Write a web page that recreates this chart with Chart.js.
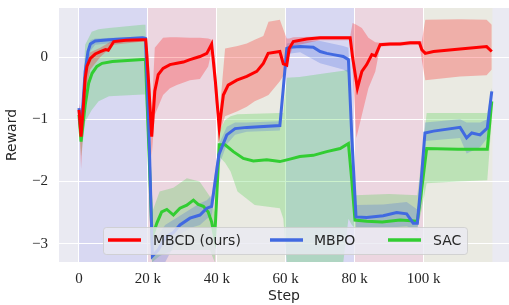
<!DOCTYPE html>
<html lang="en">
<head>
    <meta charset="UTF-8">
    <title>Reward vs Step</title>
    <script src="https://cdn.jsdelivr.net/npm/chart.js"></script>
    <style>
        body { margin: 0; background: #fff; }
        .wrap { width: 509px; height: 305px; position: relative; }
    </style>
</head>
<body>
<div class="wrap"><canvas id="rewardChart"></canvas></div>

<script>
// steps are in thousands
const xTicks = [0, 20, 40, 60, 80, 100];
const yTicks = [-3, -2, -1, 0];
const phaseStarts = [0, 20, 40, 60, 80, 100];
const phaseColors = ['#D8D8F2', '#ECD6E0', '#EAEAE2', '#D8D8F2', '#ECD6E0', '#EAEAE2'];

// MBCD (ours)
const mbcdSteps = [0, 0.6, 1.3, 1.8, 2.3, 3.3, 4.7, 6.2, 7.7, 8.5,
    9.2, 10.1, 13.6, 18.5, 19.4, 20.2, 21.1, 22, 23, 24.4,
    26.4, 28.4, 30.3, 32.2, 35.1, 37.1, 38.5, 39.6, 40.7, 41.9,
    43.3, 45.8, 48.7, 51.6, 53.5, 54.9, 58.3, 59.3, 60.3, 61,
    62.2, 66.1, 70, 78.7, 79.4, 80.8, 82.1, 83.5, 85, 86,
    87.4, 90.3, 93.2, 96.1, 98.8, 99.5, 100.5, 102.9, 110.6, 118.3,
    119.8];
const mbcdMean = [-0.85, -1.28, -0.77, -0.34, -0.15, -0.02, 0.05, 0.09, 0.12, 0.11,
    0.17, 0.25, 0.27, 0.28, 0.28, -0.4, -1.28, -0.55, -0.28, -0.18,
    -0.12, -0.10, -0.08, -0.04, 0.01, 0.06, 0.21, -0.4, -1.14, -0.61,
    -0.45, -0.37, -0.31, -0.23, -0.10, 0.06, 0.09, -0.11, -0.13, 0.14,
    0.25, 0.29, 0.31, 0.31, 0.0, -0.50, -0.23, -0.12, 0.04, 0.02,
    0.20, 0.21, 0.21, 0.23, 0.23, 0.12, 0.06, 0.09, 0.13, 0.17,
    0.09];
const mbcdBandSteps = [0, 0.6, 1.8, 3.3, 6.2, 10.1, 18.5, 19.4, 20.2, 21.1,
    22, 24.4, 26.4, 28.4, 32.2, 35.1, 37.5, 38.5, 39.6, 40.7,
    42.4, 46, 48.7, 51, 53.5, 55, 58.3, 59.3, 60.3, 61,
    62.2, 70, 78.7, 79.4, 80.5, 82.1, 84, 86, 87.4, 98.8,
    99.5, 100.5, 110.6, 118.3, 119.8];
const mbcdUpper = [-0.75, -0.9, -0.15, 0.08, 0.15, 0.28, 0.30, 0.30, 0.0, -0.9,
    0.15, 0.31, 0.32, 0.32, 0.31, 0.31, 0.30, 0.28, -0.1, -0.95,
    0.14, 0.18, 0.22, 0.28, 0.34, 0.57, 0.60, 0.45, 0.30, 0.30,
    0.32, 0.33, 0.33, 0.55, 0.52, 0.47, 0.31, 0.24, 0.23, 0.26,
    0.25, 0.60, 0.61, 0.60, 0.52];
const mbcdLower = [-0.95, -1.8, -0.6, -0.2, 0.0, 0.2, 0.25, 0.25, -0.7, -1.6,
    -0.93, -0.61, -0.5, -0.45, -0.37, -0.35, -0.15, 0.1, -0.7, -1.25,
    -0.95, -0.87, -0.8, -0.71, -0.65, -0.61, -0.39, -0.3, -0.18, 0.0,
    0.18, 0.27, 0.27, -0.2, -1.30, -0.93, -0.50, -0.23, 0.17, 0.2,
    -0.05, -0.37, -0.31, -0.29, -0.2];

// MBPO
const mbpoSteps = [0, 0.6, 1.8, 2.6, 3.3, 4.7, 8.7, 18.5, 19.3, 20.3,
    21.3, 23, 25, 27.4, 29.3, 32.2, 35.1, 37.1, 38.5, 40.6,
    42.9, 45.3, 48.7, 58.3, 59.3, 60.3, 61.3, 64.2, 68, 70,
    71.9, 73.8, 76.7, 78.2, 79.2, 80.4, 83.5, 88.3, 92.2, 95.1,
    97, 98.2, 99.3, 100.4, 102.9, 110.6, 112.5, 114, 116.4, 118.5,
    119.8];
const mbpoMean = [-0.82, -1.2, -0.23, 0.09, 0.21, 0.26, 0.28, 0.31, 0.30, -1.2,
    -3.2, -3.1, -2.9, -2.82, -2.70, -2.59, -2.54, -2.43, -2.40, -1.57,
    -1.25, -1.15, -1.13, -1.10, -0.5, 0.14, 0.16, 0.17, 0.16, 0.09,
    0.06, 0.04, 0.01, -0.04, -1.3, -2.57, -2.58, -2.55, -2.50, -2.52,
    -2.67, -2.67, -2.0, -1.22, -1.19, -1.13, -1.30, -1.22, -1.25, -1.14,
    -0.55];
const mbpoBandSteps = [0, 0.6, 1.8, 3.3, 4.7, 18.5, 19.3, 20.3, 21.3, 25,
    29.3, 32.2, 35.1, 37.1, 38.5, 40.6, 42.9, 45.3, 48.7, 58.3,
    59.3, 60.3, 64.2, 70, 76.7, 78.2, 79.2, 80.4, 88.3, 95.1,
    98.2, 99.3, 100.4, 110.6, 112.5, 116.4, 118.5, 119.8];
const mbpoUpper = [-0.75, -1.1, -0.05, 0.27, 0.3, 0.33, 0.33, -1.0, -3.0, -2.7,
    -2.55, -2.45, -2.35, -2.3, -2.22, -1.4, -1.12, -1.05, -1.05, -1.03,
    -0.4, 0.22, 0.25, 0.26, 0.18, 0.15, -1.1, -2.38, -2.37, -2.33,
    -2.45, -1.8, -1.05, -1.0, -1.05, -1.05, -1.0, -0.5];
const mbpoLower = [-0.9, -1.3, -0.45, 0.1, 0.2, 0.27, 0.27, -1.4, -3.4, -3.3,
    -2.85, -2.75, -2.7, -2.6, -2.55, -1.75, -1.4, -1.25, -1.2, -1.18,
    -0.6, 0.05, 0.08, -0.1, -0.2, -0.25, -1.5, -2.75, -2.75, -2.72,
    -2.8, -2.2, -1.35, -1.3, -1.55, -1.45, -1.3, -0.6];

// SAC
const sacSteps = [0, 0.6, 1.8, 2.8, 3.8, 5.2, 6.7, 9.7, 18.5, 19.3,
    20.3, 21.2, 22.6, 24, 25.5, 27.4, 29.3, 31.3, 33.2, 34.6,
    36.1, 37.5, 38.5, 39.4, 40.7, 42.4, 44.8, 47.7, 50.6, 54.5,
    58.3, 61.2, 64.1, 68, 71.9, 75.8, 78.2, 79.2, 80.1, 83.5,
    88, 93.2, 98.2, 99.3, 100.9, 110, 118.5, 119.8];
const sacMean = [-0.93, -1.36, -0.77, -0.42, -0.26, -0.15, -0.10, -0.07, -0.04, -0.04,
    -1.5, -2.9, -2.67, -2.49, -2.45, -2.54, -2.43, -2.38, -2.30, -2.37,
    -2.40, -2.49, -2.65, -2.9, -1.41, -1.41, -1.52, -1.63, -1.67, -1.65,
    -1.68, -1.64, -1.60, -1.58, -1.52, -1.47, -1.39, -2.0, -2.62, -2.64,
    -2.65, -2.62, -2.64, -2.2, -1.47, -1.48, -1.48, -0.71];
const sacBandSteps = [0, 0.6, 1.8, 3.7, 5.7, 8.7, 18.5, 19.3, 20.3, 21.2,
    23.4, 27.4, 31.3, 35, 38, 39.4, 40.7, 42.4, 44, 46,
    51, 58.3, 59.3, 60.3, 64, 70, 76.7, 78.2, 79.2, 80.1,
    90, 98.2, 99.3, 100.9, 110, 118.5, 119.8];
const sacUpper = [-0.85, -1.2, 0.2, 0.41, 0.45, 0.47, 0.52, 0.52, -1.0, -2.5,
    -2.16, -2.1, -1.95, -2.0, -2.24, -2.5, -1.2, -1.01, -0.95, -0.92,
    -0.91, -0.9, -0.9, -0.33, -0.32, -0.27, -0.22, -0.2, -1.0, -2.22,
    -2.2, -2.22, -1.7, -0.9, -0.9, -0.9, -0.5];
const sacLower = [-1.0, -1.6, -1.04, -0.85, -0.71, -0.63, -0.6, -0.6, -2.0, -3.3,
    -3.2, -3.1, -3.1, -3.1, -3.1, -3.3, -1.6, -1.7, -1.84, -2.16,
    -2.38, -2.43, -2.6, -3.3, -3.3, -3.3, -3.3, -2.6, -2.7, -2.75,
    -2.75, -2.75, -2.5, -2.03, -2.0, -1.98, -1.0];

const RED = '#FF0000', BLUE = '#4169E1', GREEN = '#32CD32';
const textColor = '#262626';

function pts(xs, ys) {
    return xs.map((x, i) => ({ x: x, y: ys[i] }));
}

function lineSet(label, xs, ys, color, order) {
    return {
        label: label, data: pts(xs, ys), borderColor: color, borderWidth: 3,
        pointRadius: 0, tension: 0, fill: false, order: order
    };
}

function bandSets(xs, hi, lo, fillColor, order) {
    return [
        { label: '', data: pts(xs, hi), borderWidth: 0, pointRadius: 0,
          backgroundColor: fillColor, fill: '+1', order: order },
        { label: '', data: pts(xs, lo), borderWidth: 0, pointRadius: 0,
          fill: false, order: order }
    ];
}

// grey background + coloured task phases
const phaseBackground = {
    id: 'phaseBackground',
    beforeDraw(chart) {
        const { ctx, chartArea: a, scales: { x } } = chart;
        ctx.save();
        ctx.fillStyle = '#EAEAF2';
        ctx.fillRect(a.left, a.top, a.width, a.height);
        phaseStarts.forEach((s, i) => {
            const l = x.getPixelForValue(s);
            const r = x.getPixelForValue(s + 20);
            ctx.fillStyle = phaseColors[i];
            ctx.fillRect(l, a.top, r - l, a.height);
        });
        ctx.restore();
    }
};

// matplotlib-like legend box inside the axes
const legendBox = {
    id: 'legendBox',
    afterDraw(chart) {
        const { ctx, chartArea: a } = chart;
        const x0 = a.left + 44, y0 = a.bottom - 35, w = 364, h = 27;
        ctx.save();
        ctx.beginPath();
        ctx.roundRect(x0 + 0.5, y0 + 0.5, w, h, 3);
        ctx.fillStyle = 'rgba(234,234,242,0.8)';
        ctx.fill();
        ctx.strokeStyle = 'rgba(204,204,204,0.8)';
        ctx.lineWidth = 1;
        ctx.stroke();
        const items = [
            { text: 'MBCD (ours)', color: RED, lx: 5, tx: 50 },
            { text: 'MBPO', color: BLUE, lx: 167, tx: 211 },
            { text: 'SAC', color: GREEN, lx: 285, tx: 330 }
        ];
        const cy = y0 + 13;
        ctx.font = '14px "DejaVu Sans"';
        ctx.textBaseline = 'middle';
        items.forEach(it => {
            ctx.strokeStyle = it.color;
            ctx.lineWidth = 3.5;
            ctx.beginPath();
            ctx.moveTo(x0 + it.lx, cy);
            ctx.lineTo(x0 + it.lx + 33, cy);
            ctx.stroke();
            ctx.fillStyle = textColor;
            ctx.fillText(it.text, x0 + it.tx, cy + 1);
        });
        ctx.restore();
    }
};

const datasets = [
    lineSet('MBCD (ours)', mbcdSteps, mbcdMean, RED, 0),
    lineSet('MBPO', mbpoSteps, mbpoMean, BLUE, 1),
    lineSet('SAC', sacSteps, sacMean, GREEN, 2)
].concat(
    bandSets(mbcdBandSteps, mbcdUpper, mbcdLower, 'rgba(255,0,0,0.25)', 3),
    bandSets(mbpoBandSteps, mbpoUpper, mbpoLower, 'rgba(65,105,225,0.25)', 4),
    bandSets(sacBandSteps, sacUpper, sacLower, 'rgba(50,205,50,0.25)', 5)
);

const ctx = document.getElementById('rewardChart').getContext('2d');
const rewardChart = new Chart(ctx, {
    type: 'line',
    data: { datasets: datasets },
    options: {
        responsive: true,
        maintainAspectRatio: false,
        animation: false,
        layout: { padding: { top: 8, right: 0, left: 0, bottom: 0 } },
        plugins: { legend: { display: false }, tooltip: { enabled: false } },
        scales: {
            x: {
                type: 'linear',
                min: -5.8,
                max: 124.8,
                grid: { color: '#FFFFFF', lineWidth: 1, drawTicks: false },
                border: { display: false },
                ticks: {
                    padding: 8,
                    color: textColor,
                    font: { family: 'Liberation Serif', size: 15 },
                    callback: v => v === 0 ? '0' : v + ' k'
                },
                title: {
                    display: true, text: 'Step', color: textColor,
                    font: { family: 'DejaVu Sans', size: 14 },
                    padding: { top: 0, bottom: 0 }
                },
                afterBuildTicks: s => { s.ticks = xTicks.map(v => ({ value: v })); },
                afterFit: s => { s.height = 43; s.paddingLeft = 0; s.paddingRight = 0; }
            },
            y: {
                min: -3.295,
                max: 0.79,
                grid: { color: '#FFFFFF', lineWidth: 1, drawTicks: false },
                border: { display: false },
                ticks: {
                    padding: 11,
                    color: textColor,
                    font: { family: 'Liberation Serif', size: 15 },
                    callback: v => v < 0 ? '\u2212' + Math.abs(v) : String(v)
                },
                title: {
                    display: true, text: 'Reward', color: textColor,
                    font: { family: 'DejaVu Sans', size: 14 },
                    padding: { top: 4, bottom: 0 }
                },
                afterBuildTicks: s => { s.ticks = yTicks.map(v => ({ value: v })); },
                afterFit: s => { s.width = 59; s.paddingTop = 0; s.paddingBottom = 0; }
            }
        }
    },
    plugins: [phaseBackground, legendBox]
});
</script>
</body>
</html>
